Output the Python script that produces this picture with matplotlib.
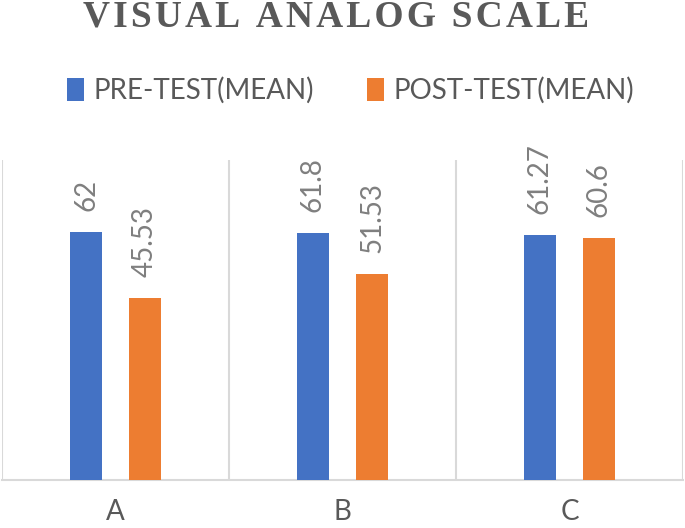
import numpy as np
import matplotlib.pyplot as plt

# data
categories = ['A', 'B', 'C']
pre_test = [62, 61.8, 61.27]
post_test = [45.53, 51.53, 60.6]
pre_labels = ['62', '61.8', '61.27']
post_labels = ['45.53', '51.53', '60.6']

blue = '#4472C4'
orange = '#ED7D31'
text_gray = '#595959'
label_gray = '#7F7F7F'
grid_gray = '#D9D9D9'

plt.rcParams['font.family'] = ['Lato', 'DejaVu Sans']

fig = plt.figure(figsize=(6.85, 5.28), dpi=100)
ax = fig.add_axes([0.003, 0.091, 0.994, 0.606])

x = np.arange(len(categories))
w = 0.137
off = 0.13
b1 = ax.bar(x - off, pre_test, w, color=blue, label='PRE-TEST(MEAN)', zorder=3)
b2 = ax.bar(x + off, post_test, w, color=orange, label='POST-TEST(MEAN)', zorder=3)

for bars, labels in [(b1, pre_labels), (b2, post_labels)]:
    for rect, lab in zip(bars, labels):
        ax.annotate(lab, (rect.get_x() + rect.get_width() / 2, rect.get_height()),
                    xytext=(0, 15), textcoords='offset points',
                    rotation=90, ha='center', va='bottom',
                    fontsize=20, color=label_gray)

ax.set_xlim(-0.5, len(categories) - 0.5)
ax.set_ylim(0, 80)
ax.set_yticks([])
ax.set_xticks(x)
ax.set_xticklabels(categories, fontsize=20, color=text_gray)
ax.tick_params(axis='x', length=0, pad=14)

# category separators
for xs in np.arange(-0.5, len(categories), 1.0):
    ax.axvline(xs, color=grid_gray, lw=1.5, zorder=1)
for s in ['top', 'left', 'right']:
    ax.spines[s].set_visible(False)
ax.spines['bottom'].set_color(grid_gray)
ax.spines['bottom'].set_linewidth(1.5)

fig.legend(loc='center', bbox_to_anchor=(0.512, 0.829), ncol=2, frameon=False,
           fontsize=20, handlelength=0.6, handleheight=0.9, handletextpad=0.35,
           columnspacing=1.9, labelcolor=text_gray)

title = '\u200a'.join('VISUAL ANALOG SCALE')
fig.text(0.491, 0.950, title, ha='center', va='baseline',
         family=['Liberation Serif', 'DejaVu Serif'], fontweight='bold',
         fontsize=27, color=text_gray)

fig.savefig('out.png', dpi=100)
